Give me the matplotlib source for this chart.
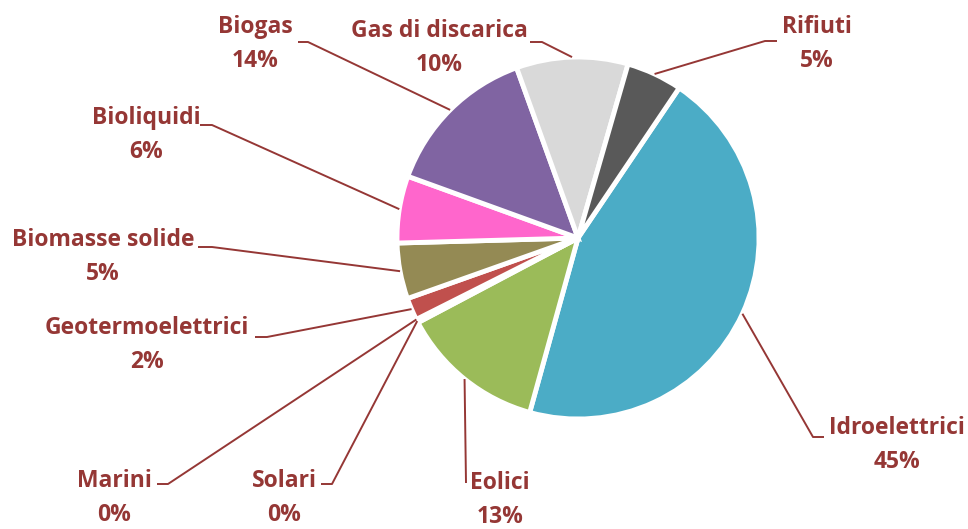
import numpy as np
import matplotlib
matplotlib.use('agg')
import matplotlib.pyplot as plt

# fonti rinnovabili - quote percentuali
categorie = ['Idroelettrici', 'Eolici', 'Solari', 'Marini', 'Geotermoelettrici',
             'Biomasse solide', 'Bioliquidi', 'Biogas', 'Gas di discarica', 'Rifiuti']
valori = [45, 13, 0.3, 0.02, 2, 5, 6, 14, 10, 5]
colori = ['#4BACC6', '#9BBB59', '#F79646', '#1F497D', '#C0504D',
          '#948A54', '#FF66CC', '#8064A2', '#D9D9D9', '#595959']

label_color = '#953735'

# posizioni etichette in pixel (y verso il basso): testo, gomito, fine della linea
text_pos = {
    'Idroelettrici': (897, 428), 'Eolici': (500, 483), 'Solari': (284, 481),
    'Marini': (114, 481), 'Geotermoelettrici': (147, 328),
    'Biomasse solide': (103, 240), 'Bioliquidi': (146, 118), 'Biogas': (255, 27),
    'Gas di discarica': (439, 31), 'Rifiuti': (817, 27),
}
elbow_pos = {
    'Idroelettrici': ((813, 437), (824, 437)), 'Eolici': ((466, 483), (466, 483)),
    'Solari': ((332, 484), (321, 484)), 'Marini': ((168, 484), (157, 484)),
    'Geotermoelettrici': ((267, 337), (255, 337)),
    'Biomasse solide': ((212, 247), (198, 247)), 'Bioliquidi': ((212, 125), (200, 125)),
    'Biogas': ((308, 42), (298, 42)), 'Gas di discarica': ((542, 42), (530, 42)),
    'Rifiuti': ((765, 41), (777, 41)),
}

W, H = 968, 529
fig = plt.figure(figsize=(W / 100, H / 100), dpi=100)
ax = fig.add_axes([0, 0, 1, 1])

explode = [0.025] + [0] * (len(valori) - 1)
# asse y invertito: counterclock=True in dati appare in senso orario
wedges, _ = ax.pie(valori, colors=colori, startangle=-56, counterclock=True,
                   explode=explode, center=(578, 238), radius=181,
                   wedgeprops=dict(edgecolor='white', linewidth=3.5))
ax.set_xlim(0, W)
ax.set_ylim(H, 0)
ax.set_aspect('equal')
ax.axis('off')

tot = sum(valori)
for w, nome, v in zip(wedges, categorie, valori):
    mid = np.deg2rad((w.theta1 + w.theta2) / 2)
    cx, cy = w.center
    ax_x = cx + w.r * np.cos(mid)
    ax_y = cy + w.r * np.sin(mid)
    (ex, ey), (fx, fy) = elbow_pos[nome]
    ax.plot([ax_x, ex, fx], [ax_y, ey, fy], color=label_color, lw=1.4,
            solid_capstyle='butt')
    tx, ty = text_pos[nome]
    ax.text(tx, ty, nome, ha='center', va='center', color=label_color,
            fontsize=16.5, fontweight='bold', family='Open Sans')
    ax.text(tx, ty + 34, f'{round(v / tot * 100)}%', ha='center', va='center',
            color=label_color, fontsize=16.5, fontweight='bold', family='Open Sans')

fig.savefig('out.png', dpi=100)
